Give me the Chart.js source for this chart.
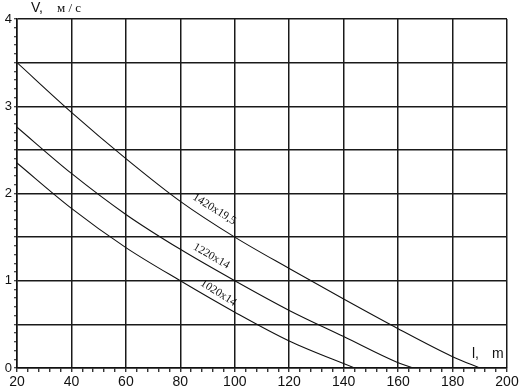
<!DOCTYPE html>
<html>
<head>
<meta charset="utf-8">
<script src="https://cdn.jsdelivr.net/npm/chart.js@4.4.1/dist/chart.umd.min.js"></script>
<style>
  html, body { margin: 0; background: #fff; }
  #wrap { width: 522px; height: 389px; }
</style>
</head>
<body>
<div id="wrap"><canvas id="chart"></canvas></div>
<script>
// pipe sizes, one curve each
const pipeSizes = ['1420x19,5', '1220x14', '1020x14'];

// length l, m  ->  velocity V, m/s
const len1420 = [20, 40, 60, 80, 100, 120, 140, 160, 180, 190];
const vel1420 = [3.5, 2.93, 2.40, 1.91, 1.5, 1.14, 0.79, 0.45, 0.13, 0];

const len1220 = [20, 40, 60, 80, 100, 120, 140, 160, 165.5];
const vel1220 = [2.76, 2.23, 1.76, 1.36, 1.0, 0.66, 0.36, 0.06, 0];

const len1020 = [20, 40, 60, 80, 100, 120, 144];
const vel1020 = [2.35, 1.83, 1.38, 1.0, 0.64, 0.31, 0];

const xTicks = [20, 40, 60, 80, 100, 120, 140, 160, 180, 200];
const yTicks = [0, 1, 2, 3, 4];

const toPoints = (xs, ys) => xs.map((v, i) => ({ x: v, y: ys[i] }));

const series = [
  toPoints(len1420, vel1420),
  toPoints(len1220, vel1220),
  toPoints(len1020, vel1020)
];

// where the size labels sit along the curves (data coords) and their slant
const labelSpots = [
  { x: 92.5, y: 1.82, rot: 32 },
  { x: 91.4, y: 1.28, rot: 30 },
  { x: 94.0, y: 0.86, rot: 32 }
];

const isMult = (v, step) => Math.abs(v / step - Math.round(v / step)) < 1e-6;

const curveLabels = {
  id: 'curveLabels',
  afterDatasetsDraw(chart) {
    const { ctx, chartArea: area, scales: { x, y } } = chart;
    ctx.save();
    ctx.fillStyle = '#111';
    ctx.textAlign = 'center';
    ctx.textBaseline = 'middle';
    ctx.font = '11.5px "Liberation Serif"';
    labelSpots.forEach((s, i) => {
      ctx.save();
      ctx.translate(x.getPixelForValue(s.x), y.getPixelForValue(s.y));
      ctx.rotate(s.rot * Math.PI / 180);
      ctx.fillText(pipeSizes[i], 0, 0);
      ctx.restore();
    });

    // axis titles
    ctx.textAlign = 'left';
    ctx.font = '14px "Liberation Sans"';
    ctx.fillText('V,', area.left + 14, area.top - 11);
    ctx.font = '13px "Liberation Serif"';
    ctx.fillText('м / с', area.left + 40, area.top - 10);
    ctx.font = '14px "Liberation Sans"';
    ctx.fillText('l,', area.right - 35, area.bottom - 14);
    ctx.fillText('m', area.right - 15, area.bottom - 14);
    ctx.restore();
  }
};

new Chart(document.getElementById('chart'), {
  type: 'line',
  data: {
    datasets: series.map((pts, i) => ({
      label: pipeSizes[i],
      data: pts,
      borderColor: '#111',
      borderWidth: 1.1,
      pointRadius: 0,
      fill: false,
      cubicInterpolationMode: 'monotone'
    }))
  },
  options: {
    responsive: true,
    maintainAspectRatio: false,
    animation: false,
    layout: { padding: { left: 0, right: 15, top: 19, bottom: 0 } },
    plugins: {
      legend: { display: false },
      tooltip: { enabled: false }
    },
    scales: {
      x: {
        type: 'linear',
        min: xTicks[0],
        max: xTicks[xTicks.length - 1],
        afterFit: s => { s.height = 21; },
        border: { display: true, color: '#111', width: 1.5 },
        grid: {
          color: c => isMult(c.tick.value, 20) ? '#1a1a1a' : 'rgba(0,0,0,0)',
          lineWidth: 1.5,
          tickColor: '#111',
          tickLength: 4,
          tickWidth: 1.2
        },
        ticks: {
          stepSize: 4,
          autoSkip: false,
          maxRotation: 0,
          padding: 2,
          color: '#111',
          font: { family: 'Liberation Sans', size: 14 },
          callback: v => xTicks.includes(v) ? String(v) : ''
        }
      },
      y: {
        min: yTicks[0],
        max: yTicks[yTicks.length - 1],
        afterFit: s => { s.width = 17; },
        border: { display: true, color: '#111', width: 1.5 },
        grid: {
          color: c => isMult(c.tick.value, 0.5) ? '#1a1a1a' : 'rgba(0,0,0,0)',
          lineWidth: 1.5,
          tickColor: '#111',
          tickLength: 3,
          tickWidth: 1.2
        },
        ticks: {
          stepSize: 0.1,
          autoSkip: false,
          padding: 2,
          color: '#111',
          font: { family: 'Liberation Sans', size: 13 },
          callback: v => yTicks.some(t => Math.abs(t - v) < 1e-6) ? String(Math.round(v)) : ''
        }
      }
    }
  },
  plugins: [curveLabels]
});
</script>
</body>
</html>
